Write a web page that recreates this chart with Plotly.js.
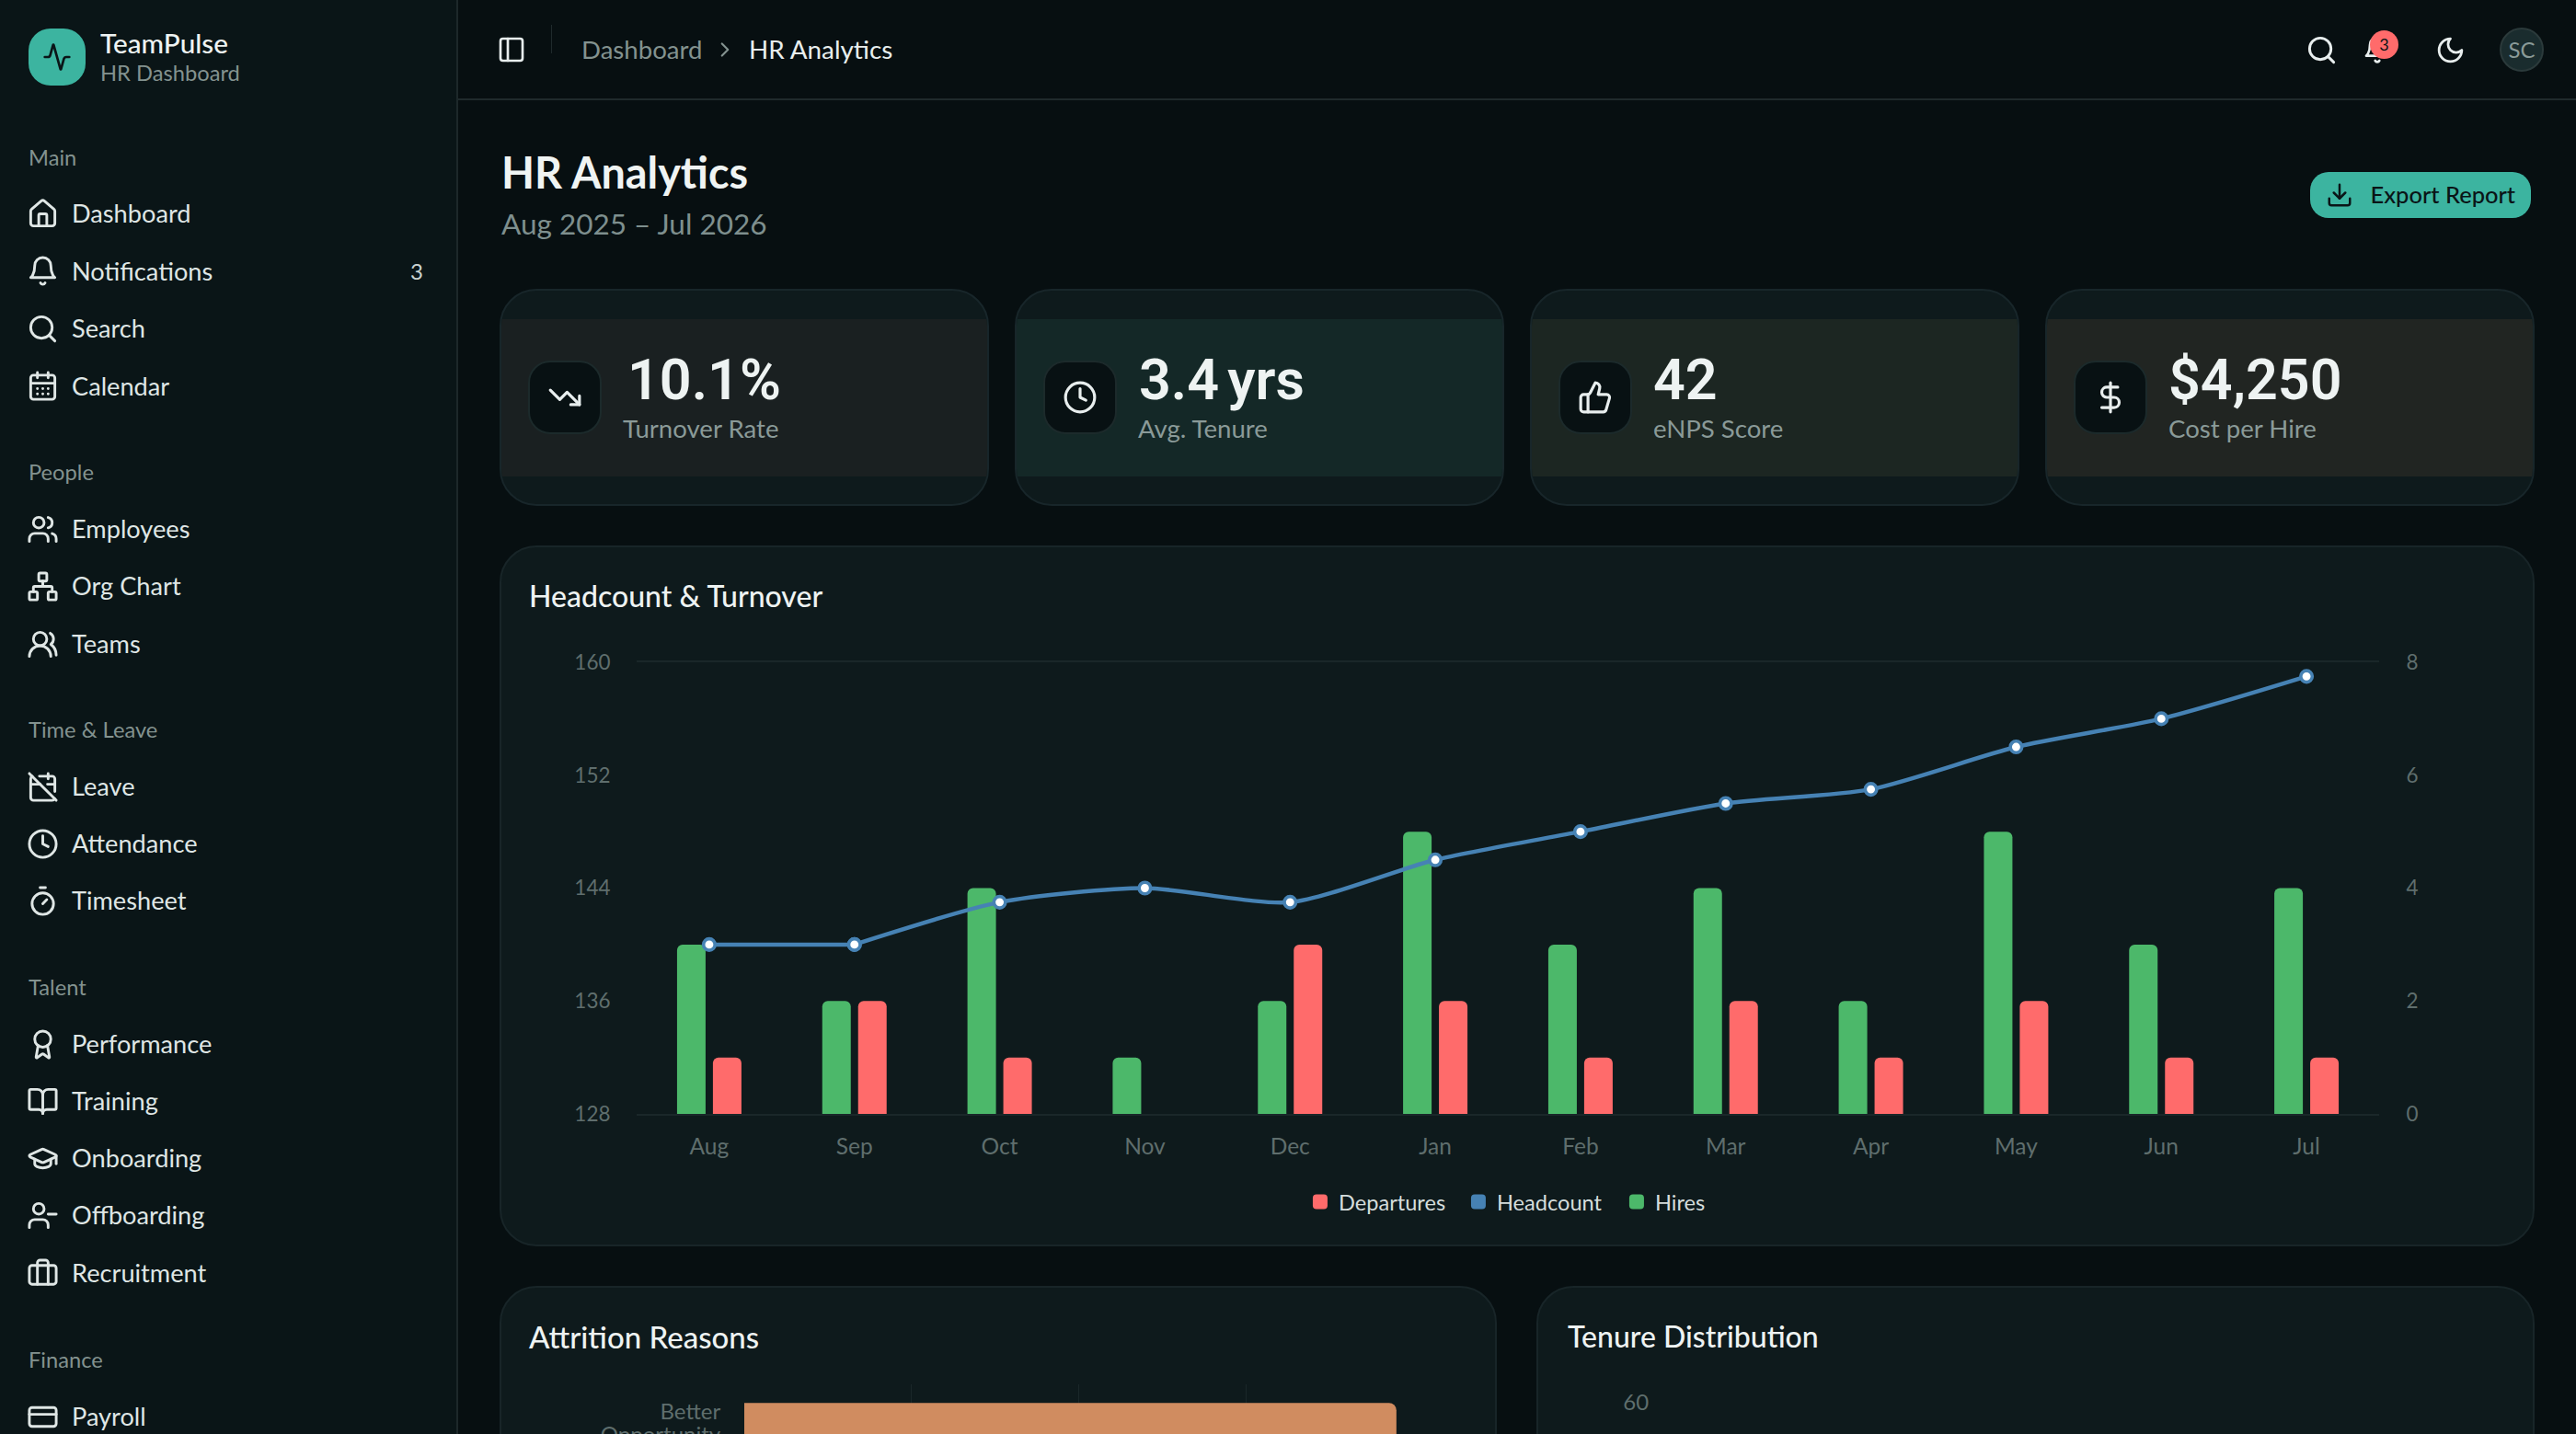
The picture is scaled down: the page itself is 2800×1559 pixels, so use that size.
<!DOCTYPE html>
<html><head><meta charset="utf-8">
<script src="https://cdn.plot.ly/plotly-3.0.1.min.js"></script>
<style>
*{box-sizing:border-box;margin:0;padding:0}
html,body{width:2800px;height:1559px;overflow:hidden;background:#070f11;font-family:Lato,"Noto Sans",sans-serif;color:#e8eeee}
.abs{position:absolute;white-space:nowrap}
svg.ic{position:absolute;fill:none;stroke:currentColor;stroke-width:2;stroke-linecap:round;stroke-linejoin:round}
#side{position:absolute;left:0;top:0;width:498px;height:1559px;background:#0a1517;border-right:2px solid #1d282a}
#head{position:absolute;left:498px;top:0;width:2302px;height:109px;border-bottom:2px solid #1f2a2c}
.lab{font-size:23.7px;color:#83928f;transform:translateY(-50%)}
.nav{font-size:27.2px;color:#dfe6e5;transform:translateY(-50%)}
.card{position:absolute;top:314px;height:236px;width:532px;background:#0e1a1c;border:2px solid #18262a;border-radius:40px;overflow:hidden}
.band{position:absolute;left:0;right:0;top:30.5px;height:171px}
.box{position:absolute;top:392px;width:80px;height:80px;background:#081113;border:2px solid #1c2a2b;border-radius:24px}
.val{font-size:61px;font-weight:600;color:#eef3f2;transform:translateY(-50%);font-family:Roboto,sans-serif;word-spacing:-6px}
.sub{font-size:27.6px;color:#8a9a98;transform:translateY(-50%)}
.panel{position:absolute;background:#0e1a1c;border:2px solid #182528;border-radius:40px}
.plot{position:absolute}
</style></head><body>
<div id="side"></div><div id="head"></div><div id="main"></div>
<div id="chartHead" class="plot" style="left:543px;top:593px;width:2212px;height:762px"></div>
<div id="chartAttr" class="plot" style="left:543px;top:1399px;width:1082px;height:400px"></div>
<div id="chartTen" class="plot" style="left:1672px;top:1399px;width:1082px;height:400px"></div>
<script>
// ---- chart data ----
const months = ["Aug","Sep","Oct","Nov","Dec","Jan","Feb","Mar","Apr","May","Jun","Jul"];
const headcount = [140,140,143,144,143,146,148,150,151,154,156,159];
const hires = [3,2,4,1,2,5,3,4,2,5,3,4];
const departures = [1,2,1,0,3,2,1,2,1,2,1,1];
const leftTicks = [128,136,144,152,160];
const rightTicks = [0,2,4,6,8];
const attritionReasons = ["Better<br>Opportunity"];
const attritionValues = [39];
const attritionTicks = [0,10,20,30,40];
const tenureTicks = [60];
const kpis = [
 {value:"10.1%",label:"Turnover Rate",icon:"trend",band:"#1a2021"},
 {value:"3.4 yrs",label:"Avg. Tenure",icon:"clock",band:"#142827"},
 {value:"42",label:"eNPS Score",icon:"thumb",band:"#1c2622"},
 {value:"$4,250",label:"Cost per Hire",icon:"dollar",band:"#212522"}];
const navGroups = [
 ["Main",[["Dashboard","home"],["Notifications","bell"],["Search","search"],["Calendar","cal"]]],
 ["People",[["Employees","users"],["Org Chart","net"],["Teams","usersr"]]],
 ["Time & Leave",[["Leave","caloff"],["Attendance","clock"],["Timesheet","timer"]]],
 ["Talent",[["Performance","award"],["Training","book"],["Onboarding","cap"],["Offboarding","userm"],["Recruitment","brief"]]],
 ["Finance",[["Payroll","cc"]]]];
// ---- icons ----
const I={
 pulse:'<path d="M22 12h-2.48a2 2 0 0 0-1.93 1.46l-2.35 8.36a.25.25 0 0 1-.48 0L9.24 2.18a.25.25 0 0 0-.48 0l-2.35 8.36A2 2 0 0 1 4.49 12H2"/>',
 home:'<path d="M15 21v-8a1 1 0 0 0-1-1h-4a1 1 0 0 0-1 1v8"/><path d="M3 10a2 2 0 0 1 .709-1.528l7-5.999a2 2 0 0 1 2.582 0l7 5.999A2 2 0 0 1 21 10v9a2 2 0 0 1-2 2H5a2 2 0 0 1-2-2z"/>',
 bell:'<path d="M6 8a6 6 0 0 1 12 0c0 7 3 9 3 9H3s3-2 3-9"/><path d="M10.3 21a1.94 1.94 0 0 0 3.4 0"/>',
 search:'<circle cx="11" cy="11" r="8"/><path d="m21 21-4.3-4.3"/>',
 cal:'<path d="M8 2v4M16 2v4"/><rect x="3" y="4" width="18" height="18" rx="2"/><path d="M3 10h18M8 14h.01M12 14h.01M16 14h.01M8 18h.01M12 18h.01M16 18h.01"/>',
 users:'<path d="M16 21v-2a4 4 0 0 0-4-4H6a4 4 0 0 0-4 4v2"/><circle cx="9" cy="7" r="4"/><path d="M22 21v-2a4 4 0 0 0-3-3.87"/><path d="M16 3.13a4 4 0 0 1 0 7.75"/>',
 net:'<rect x="16" y="16" width="6" height="6" rx="1"/><rect x="2" y="16" width="6" height="6" rx="1"/><rect x="9" y="2" width="6" height="6" rx="1"/><path d="M5 16v-3a1 1 0 0 1 1-1h12a1 1 0 0 1 1 1v3"/><path d="M12 12V8"/>',
 usersr:'<path d="M18 21a8 8 0 0 0-16 0"/><circle cx="10" cy="8" r="5"/><path d="M22 20c0-3.37-2-6.5-4-8a5 5 0 0 0-.45-8.3"/>',
 caloff:'<path d="M4.2 4.2A2 2 0 0 0 3 6v14a2 2 0 0 0 2 2h14a2 2 0 0 0 1.82-1.18"/><path d="M21 15.5V6a2 2 0 0 0-2-2H9.5"/><path d="M16 2v4M3 10h7M21 10h-5.5"/><path d="m2 2 20 20"/>',
 clock:'<circle cx="12" cy="12" r="10"/><path d="M12 6v6l4 2"/>',
 timer:'<path d="M10 2h4M12 14l3-3"/><circle cx="12" cy="14" r="8"/>',
 award:'<path d="m15.477 12.89 1.515 8.526a.5.5 0 0 1-.81.47l-3.58-2.687a1 1 0 0 0-1.197 0l-3.586 2.686a.5.5 0 0 1-.81-.469l1.514-8.526"/><circle cx="12" cy="8" r="6"/>',
 book:'<path d="M12 7v14"/><path d="M3 18a1 1 0 0 1-1-1V4a1 1 0 0 1 1-1h5a4 4 0 0 1 4 4 4 4 0 0 1 4-4h5a1 1 0 0 1 1 1v13a1 1 0 0 1-1 1h-6a3 3 0 0 0-3 3 3 3 0 0 0-3-3z"/>',
 cap:'<path d="M21.42 10.922a1 1 0 0 0-.019-1.838L12.83 5.18a2 2 0 0 0-1.66 0L2.6 9.08a1 1 0 0 0 0 1.832l8.57 3.908a2 2 0 0 0 1.66 0z"/><path d="M22 10v6"/><path d="M6 12.5V16a6 3 0 0 0 12 0v-3.5"/>',
 userm:'<path d="M16 21v-2a4 4 0 0 0-4-4H6a4 4 0 0 0-4 4v2"/><circle cx="9" cy="7" r="4"/><path d="M22 11h-6"/>',
 brief:'<path d="M16 20V4a2 2 0 0 0-2-2h-4a2 2 0 0 0-2 2v16"/><rect x="2" y="6" width="20" height="14" rx="2"/>',
 cc:'<rect x="2" y="5" width="20" height="14" rx="2"/><path d="M2 10h20"/>',
 panel:'<rect x="3" y="3" width="18" height="18" rx="2"/><path d="M9 3v18"/>',
 chev:'<path d="m9 18 6-6-6-6"/>',
 moon:'<path d="M12 3a6 6 0 0 0 9 9 9 9 0 1 1-9-9Z"/>',
 dl:'<path d="M21 15v4a2 2 0 0 1-2 2H5a2 2 0 0 1-2-2v-4"/><path d="m7 10 5 5 5-5"/><path d="M12 15V3"/>',
 trend:'<path d="M22 17 13.5 8.5l-5 5L2 7"/><path d="M16 17h6v-6"/>',
 thumb:'<path d="M7 10v12"/><path d="M15 5.88 14 10h5.83a2 2 0 0 1 1.92 2.56l-2.33 8A2 2 0 0 1 17.5 22H4a2 2 0 0 1-2-2v-8a2 2 0 0 1 2-2h2.76a2 2 0 0 0 1.79-1.11L12 2a3.13 3.13 0 0 1 3 3.88Z"/>',
 dollar:'<path d="M12 2v20"/><path d="M17 5H9.5a3.5 3.5 0 0 0 0 7h5a3.5 3.5 0 0 1 0 7H6"/>'
};
function ic(name,cx,cy,size,color,sw){return `<svg class="ic" viewBox="0 0 24 24" style="left:${cx-size/2}px;top:${cy-size/2}px;width:${size}px;height:${size}px;color:${color||'#e8eeee'};stroke-width:${sw||2}">${I[name]}</svg>`}
function tx(t,x,y,cls,extra){return `<div class="abs ${cls||''}" style="left:${x}px;top:${y}px;${extra||''}">${t}</div>`}
// ---- sidebar ----
let h=`<div class="abs" style="left:31px;top:31px;width:62px;height:62px;border-radius:24px;background:#3cb4a0"></div>`+
 ic('pulse',62,62,32,'#0a1517')+
 tx('TeamPulse',109,46,'', 'font-size:29.7px;font-weight:500;color:#eef3f2;transform:translateY(-50%)')+
 tx('HR Dashboard',109,78.5,'', 'font-size:23.7px;color:#83928f;transform:translateY(-50%)');
const rowY=[[170.5],[231,293.6,356,418.6],[512.5],[574,636,699],[792.5],[854,916,978],[1072.5],[1134,1196,1258,1320,1383],[1477.5],[1539]];
navGroups.forEach((g,gi)=>{
 h+=tx(g[0],31,rowY[gi*2][0],'lab');
 g[1].forEach((it,i)=>{const y=rowY[gi*2+1][i];
  h+=ic(it[1],46.5,y+1,35,'#dfe6e5')+tx(it[0],78,y,'nav');
  if(it[0]==='Notifications')h+=tx('3',446,y,'', 'font-size:24px;color:#c9d2d1;transform:translateY(-50%)');
 });
});
document.getElementById('side').innerHTML=h;
// ---- header ----
let m=ic('panel',556,54,32,'#e8eeee')+
 `<div class="abs" style="left:599px;top:27px;width:1px;height:31px;background:#1f2a2c"></div>`+
 tx('Dashboard',632,53,'', 'font-size:27.6px;color:#83928f;transform:translateY(-50%)')+
 ic('chev',788,54,26,'#83928f')+
 tx('HR Analytics',814,53,'', 'font-size:27.8px;color:#e8eeee;transform:translateY(-50%)')+
 ic('search',2523,54,35)+ic('bell',2584,54,32)+
 `<div class="abs" style="left:2576px;top:33px;width:31px;height:31px;border-radius:50%;background:#ff6b6b;color:#0a1517;font-size:18px;text-align:center;line-height:30px">3</div>`+
 ic('moon',2663,54,33)+
 `<div class="abs" style="left:2717px;top:30px;width:48px;height:48px;border-radius:50%;background:#1a2c2e;border:2px solid #2b3a3b;color:#8a9a98;font-size:24px;text-align:center;line-height:44px">SC</div>`+
 tx('HR Analytics',545,186.5,'', 'font-size:46.8px;font-weight:700;color:#f0f4f3;transform:translateY(-50%)')+
 tx('Aug 2025 – Jul 2026',545,242.5,'', 'font-size:31.5px;color:#7e8f8e;transform:translateY(-50%)')+
 `<div class="abs" style="left:2511px;top:187px;width:240px;height:50px;border-radius:20px;background:#3cb4a0"></div>`+
 ic('dl',2543,212,30,'#0a1517')+
 tx('Export Report',2576.5,211,'', 'font-size:25.5px;font-weight:500;color:#0a1517;transform:translateY(-50%)');
const cardX=[543,1103,1663,2223], iconC=[613.5,1173.5,1733.5,2293.5], textX=[677,1237,1797,2357], valDx=[5,1,0,0];
kpis.forEach((k,i)=>{
 m+=`<div class="card" style="left:${cardX[i]}px"><div class="band" style="background:${k.band}"></div></div>`;
 m+=`<div class="box" style="left:${iconC[i]-40}px"></div>`+ic(k.icon,iconC[i],432,38);
 m+=tx(k.value,textX[i]+valDx[i],413,'val')+tx(k.label,textX[i],465,'sub');
});
m+=`<div class="panel" style="left:543px;top:593px;width:2212px;height:762px"></div>
<div class="panel" style="left:543px;top:1398px;width:1084px;height:400px"></div>
<div class="panel" style="left:1670px;top:1398px;width:1085px;height:400px"></div>`;
document.getElementById('main').innerHTML=m;
// ---- charts ----
const FONT='Lato, "Noto Sans", sans-serif', TICK='#5f6e6d', GRID='#1a2729';
const cfg={staticPlot:true,displayModeBar:false};
const titleOf=(t,sz)=>({text:t,font:{size:sz||32,color:'#eef3f2',family:FONT,weight:500},xref:'container',yref:'container',x:32/1082,xanchor:'left',yanchor:'middle'});
const t1=titleOf('Headcount & Turnover');t1.x=32/2212;t1.y=1-56/762;
const tf=(s)=>({size:s,color:TICK});
const lineStyle={color:'#4682b4',width:4.5};
const markerStyle={size:12.5,color:'#ffffff',line:{color:'#4682b4',width:3.6}};
Plotly.newPlot('chartHead',[
 {type:'bar',name:'Hires',x:months,y:hires,yaxis:'y',marker:{color:'#4cb86a'},legendrank:3},
 {type:'bar',name:'Departures',x:months,y:departures,yaxis:'y',marker:{color:'#ff6b6b'},legendrank:1},
 {type:'scatter',mode:'lines+markers',name:'Headcount',x:months.slice(0,2),y:headcount.slice(0,2),yaxis:'y2',showlegend:false,line:lineStyle,marker:markerStyle},
 {type:'scatter',mode:'lines+markers',name:'Headcount',x:months.slice(1),y:headcount.slice(1),yaxis:'y2',showlegend:false,
  line:Object.assign({shape:'spline',smoothing:0.7},lineStyle),marker:markerStyle},
 {type:'bar',name:'Headcount',x:[months[0]],y:[null],yaxis:'y2',marker:{color:'#4682b4'},legendrank:2}
],{
 title:t1,width:2212,height:762,paper_bgcolor:'rgba(0,0,0,0)',plot_bgcolor:'rgba(0,0,0,0)',
 margin:{l:149,r:169,t:127,b:144},font:{family:FONT,size:24,color:TICK},
 barmode:'group',bargap:0.506,bargroupgap:0.205,barcornerradius:6,
 xaxis:{type:'category',categoryorder:'array',categoryarray:months,range:[-0.5,11.5],showgrid:false,zeroline:false,showline:true,mirror:true,linecolor:GRID,linewidth:2,ticks:'outside',ticklen:13,tickcolor:'rgba(0,0,0,0)',tickfont:tf(24.5),automargin:false},
 yaxis:{side:'right',range:[0,8],tickvals:rightTicks,showgrid:false,zeroline:false,showline:false,ticks:'outside',ticklen:24,tickcolor:'rgba(0,0,0,0)',tickfont:tf(22.5),automargin:false},
 yaxis2:{side:'left',overlaying:'y',range:[128,160],tickvals:leftTicks,showgrid:false,zeroline:false,showline:false,ticks:'outside',ticklen:23,tickcolor:'rgba(0,0,0,0)',tickfont:tf(22.5),automargin:false},
 legend:{orientation:'h',x:0.3817,xanchor:'left',y:-0.195,yanchor:'middle',entrywidthmode:'pixels',entrywidth:127,font:{size:23.6,color:'#d5dddc',family:FONT},bgcolor:'rgba(0,0,0,0)'},
},cfg).then(()=>{
 document.querySelectorAll('#chartHead .legendpoints path').forEach(p=>{p.setAttribute('d','M4,-8H-4A4,4 0 0 0 -8,-4V4A4,4 0 0 0 -4,8H4A4,4 0 0 0 8,4V-4A4,4 0 0 0 4,-8Z')});
});
const t2=titleOf('Attrition Reasons',33);t2.y=1-55/400;
Plotly.newPlot('chartAttr',[{type:'bar',orientation:'h',x:attritionValues,y:attritionReasons,marker:{color:'#d08c60'},width:0.55}],{
 title:t2,width:1082,height:400,paper_bgcolor:'rgba(0,0,0,0)',plot_bgcolor:'rgba(0,0,0,0)',showlegend:false,
 margin:{l:266,r:89,t:106,b:204},font:{family:FONT,size:24,color:TICK},barcornerradius:8,
 xaxis:{range:[0,40],tickvals:attritionTicks,showticklabels:false,showgrid:true,gridcolor:GRID,gridwidth:1,zeroline:false,showline:false,automargin:false},
 yaxis:{type:'category',categoryarray:attritionReasons,showgrid:false,zeroline:false,showline:false,ticks:'outside',ticklen:20,tickcolor:'rgba(0,0,0,0)',tickfont:tf(24),automargin:false}
},cfg).then(()=>{
 document.querySelectorAll('#chartAttr .ytick text tspan.line').forEach((s,i)=>{if(i===1)s.setAttribute('dy','1.05em')});
});
const t3=titleOf('Tenure Distribution');t3.y=1-55/400;
Plotly.newPlot('chartTen',[{type:'bar',x:[],y:[],marker:{color:'#3cb4a0'}}],{
 title:t3,width:1082,height:400,paper_bgcolor:'rgba(0,0,0,0)',plot_bgcolor:'rgba(0,0,0,0)',showlegend:false,
 margin:{l:149,r:53,t:126,b:74},font:{family:FONT,size:24,color:TICK},
 xaxis:{showgrid:false,zeroline:false,showline:false,showticklabels:false,ticks:'',range:[0,1]},
 yaxis:{range:[0,60],tickvals:tenureTicks,showgrid:true,gridcolor:GRID,gridwidth:2,zeroline:false,showline:false,ticks:'outside',ticklen:23,tickcolor:'rgba(0,0,0,0)',tickfont:tf(24),automargin:false}
},cfg);
</script></body></html>
